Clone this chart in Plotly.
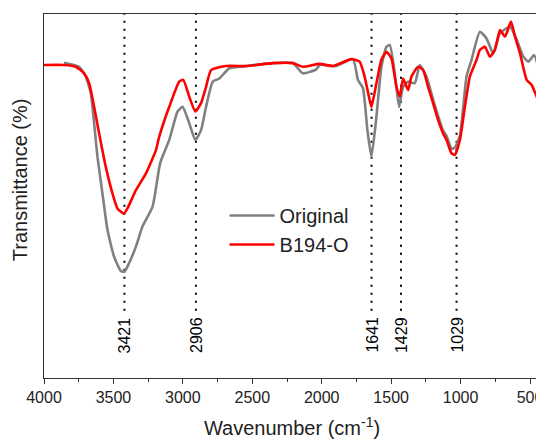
import plotly.graph_objects as go

# Original (grey)
orig_wn = [3856, 3747, 3699, 3663, 3639, 3615, 3579, 3543, 3495, 3447, 3421, 3399, 3338, 3291, 3218,
           3163, 3098, 3038, 3002, 2954, 2910, 2869, 2833, 2785, 2737, 2665, 2544, 2352, 2208, 2136,
           2039, 2015, 1900, 1775, 1739, 1703, 1671, 1642, 1606, 1570, 1534, 1510, 1474, 1443, 1414,
           1378, 1330, 1294, 1246, 1198, 1162, 1126, 1101, 1065, 1041, 1005, 957, 921, 861, 813, 765,
           716, 644, 596, 548, 512, 471, 428]
orig_t = [86.6, 85.5, 82.8, 78.2, 70.0, 60.8, 50.7, 40.7, 33.3, 29.4, 29.2, 30.6, 36.1, 41.6, 47.1,
          59.1, 65.4, 73.2, 74.5, 70.0, 65.4, 68.1, 74.5, 81.4, 82.3, 85.1, 85.7, 86.5, 86.5, 83.7,
          84.8, 86.0, 85.7, 87.6, 81.9, 79.6, 68.1, 60.8, 71.8, 85.5, 91.0, 91.5, 83.7, 74.5, 80.0,
          81.4, 81.0, 86.0, 82.8, 76.5, 72.0, 68.0, 66.5, 63.0, 63.3, 66.5, 82.8, 87.4, 95.1, 93.3, 89.2,
          94.7, 96.5, 92.9, 88.3, 86.9, 88.7, 83.7]

# B194-O (red)
b194_wn = [4000, 3856, 3771, 3711, 3675, 3639, 3603, 3555, 3507, 3471, 3425, 3399, 3338, 3266, 3194,
           3170, 3098, 3026, 2997, 2954, 2910, 2869, 2833, 2797, 2689, 2544, 2352, 2208, 2136, 2015,
           1919, 1787, 1727, 1691, 1660, 1642, 1606, 1570, 1534, 1498, 1462, 1438, 1414, 1378, 1354,
           1306, 1270, 1234, 1198, 1162, 1126, 1101, 1065, 1041, 1005, 969, 933, 885, 861, 825, 789,
           753, 716, 680, 637, 608, 572, 524, 488, 452, 433]
b194_t = [86.0, 86.0, 85.5, 83.7, 81.0, 74.5, 67.2, 58.0, 50.7, 46.6, 45.2, 46.6, 51.6, 56.2, 62.6,
          66.3, 74.5, 81.4, 81.9, 77.3, 73.2, 75.5, 80.0, 84.6, 85.7, 85.7, 86.5, 86.5, 85.5, 86.3,
          85.7, 87.6, 86.9, 82.8, 77.3, 74.4, 81.0, 87.4, 89.6, 87.8, 80.0, 77.3, 82.3, 79.1, 82.8,
          85.5, 84.6, 80.0, 75.5, 70.9, 67.2, 65.4, 61.7, 61.3, 65.4, 74.5, 82.8, 87.4, 90.1, 91.0, 88.3,
          90.1, 95.6, 93.8, 97.9, 93.8, 89.2, 81.9, 80.5, 77.3, 75.5]

peaks = [3421, 2906, 1641, 1429, 1029]
peak_labels = ["3421", "2906", "1641", "1429", "1029"]

x_ticks = [4000, 3500, 3000, 2500, 2000, 1500, 1000, 500]

FONT = "Arial, Liberation Sans, sans-serif"

fig = go.Figure()
fig.add_trace(go.Scatter(x=orig_wn, y=orig_t, mode="lines", name="Original",
                         line=dict(color="#808080", width=2.6, shape="spline", smoothing=0.5)))
fig.add_trace(go.Scatter(x=b194_wn, y=b194_t, mode="lines", name="B194-O",
                         line=dict(color="#ff0000", width=2.6, shape="spline", smoothing=0.5)))

for p, lab in zip(peaks, peak_labels):
    fig.add_shape(type="line", x0=p, x1=p, y0=18.5, y1=100, xref="x", yref="y",
                  line=dict(color="black", width=2, dash="2px,6px"), layer="below")
    fig.add_annotation(x=p, y=11.8, text=lab, textangle=-90, showarrow=False,
                       xref="x", yref="y", font=dict(size=16, color="black", family=FONT))

# y-axis title (placed slightly above the axis centre, as in the reference)
fig.add_annotation(x=-0.048, y=0.544, xref="paper", yref="paper", text="Transmittance (%)",
                   textangle=-90, showarrow=False, xanchor="center", yanchor="middle",
                   font=dict(size=20, color="#222", family=FONT))

# the page body has an 8px margin, so the figure is 8px smaller and shifted
fig.update_layout(
    width=536, height=431,
    margin=dict(l=36, r=4, t=6, b=61, autoexpand=False),
    paper_bgcolor="white", plot_bgcolor="white",
    font=dict(family=FONT, color="black"),
    showlegend=True,
    legend=dict(x=0.364, y=0.5, xanchor="left", yanchor="top",
                bgcolor="rgba(0,0,0,0)", font=dict(size=20, color="#222"),
                itemwidth=45, tracegroupgap=0),
)
fig.update_xaxes(range=[4000, 428], tickvals=x_ticks, ticktext=[str(v) for v in x_ticks],
                 showline=True, mirror=True, linecolor="#333", linewidth=1.3,
                 ticks="outside", ticklen=5, tickcolor="#333", tickwidth=1.3,
                 minor=dict(dtick=250, tick0=0, ticks="outside", ticklen=3, tickcolor="#333"),
                 showgrid=False, zeroline=False, automargin=False,
                 tickfont=dict(size=16, color="#222"),
                 title=dict(text="Wavenumber (cm<sup>-1</sup>)", font=dict(size=20, color="#222"),
                            standoff=18))
fig.update_yaxes(range=[0, 100], showticklabels=False, ticks="",
                 showline=True, mirror=True, linecolor="#333", linewidth=1.3,
                 showgrid=False, zeroline=False, automargin=False)

fig.write_html("out.html")
